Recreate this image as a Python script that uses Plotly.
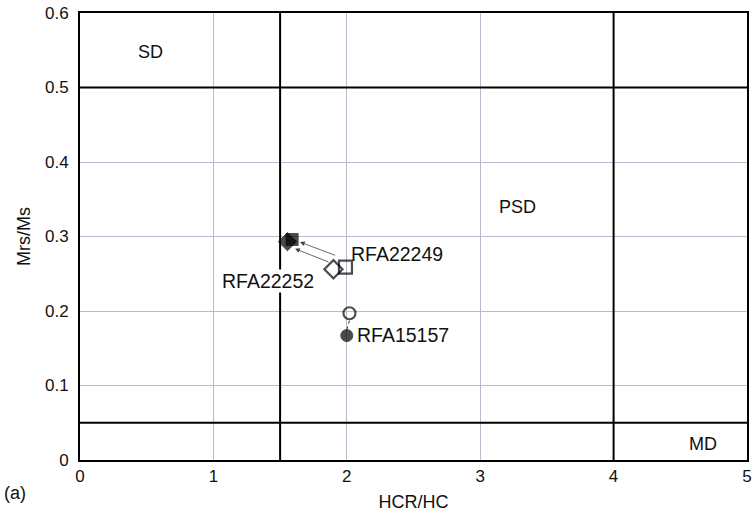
import plotly.graph_objects as go

# Data (HCR/HC, Mrs/Ms)
open_x = [1.99, 1.90, 2.02]
open_y = [0.259, 0.256, 0.197]
open_sym = ["square-open", "diamond-open", "circle-open"]
filled_x = [1.59, 1.555, 2.0]
filled_y = [0.296, 0.293, 0.167]
filled_sym = ["square", "diamond", "circle"]
sample_names = ["RFA22249", "RFA22252", "RFA15157"]
label_x = [2.38, 1.41, 2.42]
label_y = [0.277, 0.240, 0.168]
label_bg = ["rgba(0,0,0,0)", "white", "rgba(0,0,0,0)"]
regions = ["SD", "PSD", "MD"]
region_x = [0.53, 3.28, 4.67]
region_y = [0.548, 0.339, 0.0215]
boundaries_x = [1.5, 4.0]
boundaries_y = [0.05, 0.5]

font = "Liberation Sans, Arial, sans-serif"
fig = go.Figure()

fig.add_trace(go.Scatter(x=[open_x[2], filled_x[2]], y=[open_y[2] - 0.01, filled_y[2] + 0.008],
                         mode="lines", line=dict(color="#333", width=1, dash="dot"),
                         showlegend=False, hoverinfo="skip"))
fig.add_trace(go.Scatter(x=open_x, y=open_y, mode="markers",
                         marker=dict(symbol=open_sym, size=[13, 14, 12], color="black",
                                     line=dict(color="black", width=2.2)),
                         showlegend=False))
fig.add_trace(go.Scatter(x=filled_x, y=filled_y, mode="markers",
                         marker=dict(symbol=filled_sym, size=[12, 14, 12], color="black",
                                     line=dict(color="black", width=1)),
                         showlegend=False))

shapes = []
for bx in boundaries_x:
    shapes.append(dict(type="line", xref="x", yref="paper", x0=bx, x1=bx, y0=0, y1=1,
                       line=dict(color="black", width=2)))
for by in boundaries_y:
    shapes.append(dict(type="line", xref="paper", yref="y", x0=0, x1=1, y0=by, y1=by,
                       line=dict(color="black", width=2)))

annotations = []
for n, lx, ly, bg in zip(sample_names, label_x, label_y, label_bg):
    annotations.append(dict(x=lx, y=ly, text=n, showarrow=False, xref="x", yref="y",
                            bgcolor=bg, borderpad=0,
                            font=dict(size=19.5, color="#111", family=font)))
for n, rx, ry in zip(regions, region_x, region_y):
    annotations.append(dict(x=rx, y=ry, text=n, showarrow=False, xref="x", yref="y",
                            font=dict(size=18, color="#111", family=font)))
# arrows from open to filled markers
for (sx, sy, ex, ey) in [(1.924, 0.274, 1.649, 0.2925), (1.874, 0.265, 1.612, 0.2836)]:
    annotations.append(dict(x=ex, y=ey, ax=sx, ay=sy, xref="x", yref="y", axref="x", ayref="y",
                            showarrow=True, arrowhead=2, arrowsize=1.2, arrowwidth=0.8,
                            arrowcolor="#444", text=""))
annotations.append(dict(x=5, y=493, xref="paper", yref="paper", text="(a)", showarrow=False,
                        font=dict(size=18, color="#111", family=font)))

ml, mr, mt, mb = 80, 3, 13, 62
fig.update_layout(
    width=755, height=522, margin=dict(l=ml, r=mr, t=mt, b=mb),
    plot_bgcolor="white", paper_bgcolor="white",
    shapes=shapes, annotations=annotations,
    font=dict(family=font, size=17, color="#111"),
)
# place "(a)" in pixel terms relative to the plot area
pw = 755 - ml - mr
ph = 522 - mt - mb
fig.layout.annotations[-1].update(x=(15 - ml) / pw, y=(522 - mb - 493) / ph,
                                  xanchor="center", yanchor="middle")

fig.update_xaxes(range=[0, 5], tickvals=[0, 1, 2, 3, 4, 5], showgrid=True, gridcolor="#b8bccc",
                 gridwidth=1, showline=True, linecolor="black", linewidth=2, mirror=True,
                 zeroline=False, ticks="", tickfont=dict(size=17),
                 title=dict(text="HCR/HC", font=dict(size=18), standoff=10))
fig.update_yaxes(range=[0, 0.6], tickvals=[0, 0.1, 0.2, 0.3, 0.4, 0.5, 0.6],
                 ticktext=["0", "0.1", "0.2", "0.3", "0.4", "0.5", "0.6"],
                 showgrid=True, gridcolor="#b8bccc", gridwidth=1, showline=True,
                 linecolor="black", linewidth=2, mirror=True, zeroline=False,
                 ticks="outside", ticklen=6, tickcolor="rgba(0,0,0,0)",
                 tickfont=dict(size=17),
                 title=dict(text="Mrs/Ms", font=dict(size=18), standoff=10))

fig.write_html("out.html")
